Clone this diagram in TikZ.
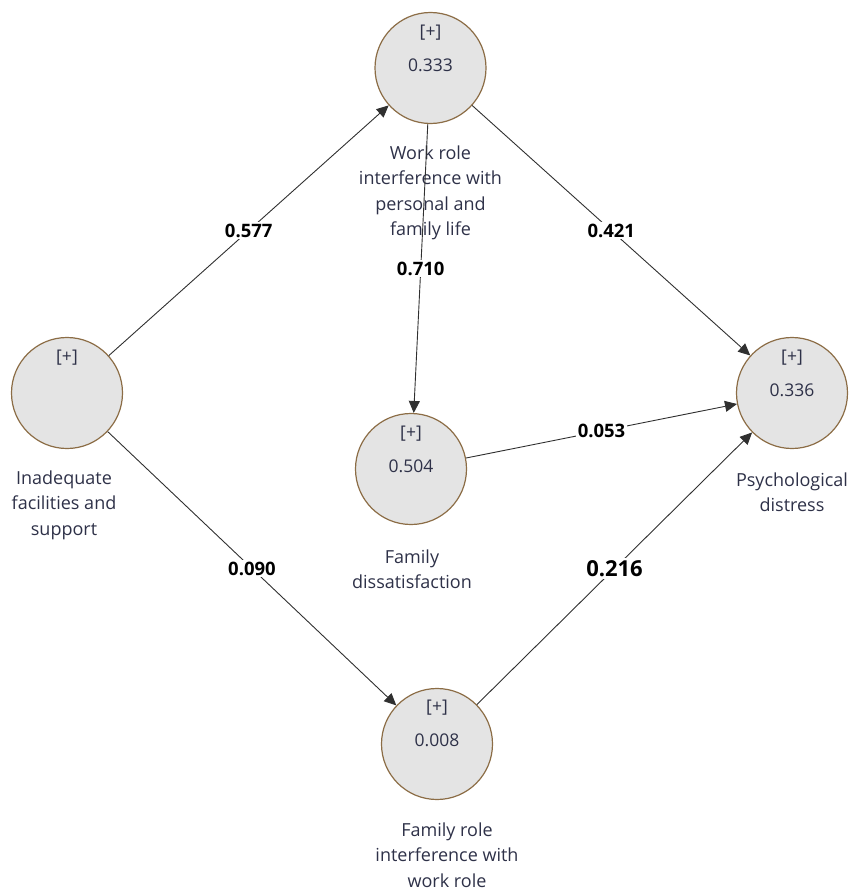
\documentclass[tikz,border=0pt]{standalone}
\usepackage{fontspec}
\setmainfont{Open Sans}
\usetikzlibrary{arrows.meta}
\definecolor{circbrd}{HTML}{8C6D46}
\definecolor{circfill}{HTML}{E4E4E4}
\definecolor{txtc}{HTML}{2E3148}
\definecolor{linec}{HTML}{303030}
\begin{document}
\begin{tikzpicture}[x=1pt,y=-1pt,
  lv/.style={circle, draw=circbrd, fill=circfill, line width=1.2pt, minimum size=111pt, inner sep=0pt},
  captext/.style={font=\fontsize{18}{25.5}\selectfont, text=txtc, align=center, inner sep=0pt},
  inn/.style={font=\fontsize{17.5}{20}\selectfont, text=txtc, inner sep=0pt},
  arr/.style={draw=linec, line width=0.9pt, -{Triangle[length=12pt,width=11pt]}},
  coef/.style={fill=white, inner sep=2pt, font=\fontsize{18.5}{20}\selectfont\bfseries, text=black},
  coefbig/.style={coef, font=\fontsize{22}{24}\selectfont\bfseries}]
\useasboundingbox (0,0) rectangle (854,891);

% constructs
\node[lv] (wr) at (430.5,68) {};
\node[lv] (ifs) at (67,393) {};
\node[lv] (fd) at (411,469) {};
\node[lv] (pd) at (792,393) {};
\node[lv] (fr) at (437,744) {};

% inner texts
\node[inn] (wrp) at (430.5,33) {[+]};
\node[inn] (wrv) at (430.5,65) {0.333};
\node[inn] (ifsp) at (67,358) {[+]};
\node[inn] (fdp) at (411,434) {[+]};
\node[inn] (fdv) at (411,466) {0.504};
\node[inn] (pdp) at (792,358) {[+]};
\node[inn] (pdv) at (792,390) {0.336};
\node[inn] (frp) at (437,708) {[+]};
\node[inn] (frv) at (437,740) {0.008};

% paths
\draw[arr] (ifs) -- node[coef] (c1) {0.577} (wr);
\draw[arr] (wr) -- node[coef] (c2) {0.421} (pd);
\draw[arr] (fd) -- node[coef] (c4) {0.053} (pd);
\draw[arr] (ifs) -- node[coef] (c5) {0.090} (fr);
\draw[arr] (fr) -- node[coefbig] (c6) {0.216} (pd);

% captions
\node[captext] (wrl) at (430.5,193) {Work role\\interference with\\personal and\\family life};
\draw[arr] (wr) -- node[coef] (c3) {0.710} (fd);
\node[captext] (ifsl) at (64,505) {Inadequate\\facilities and\\support};
\node[captext] (fdl) at (412,569) {Family\\dissatisfaction};
\node[captext] (pdl) at (792,492) {Psychological\\distress};
\node[captext] (frl) at (447,855) {Family role\\interference with\\work role};
\end{tikzpicture}
\end{document}
